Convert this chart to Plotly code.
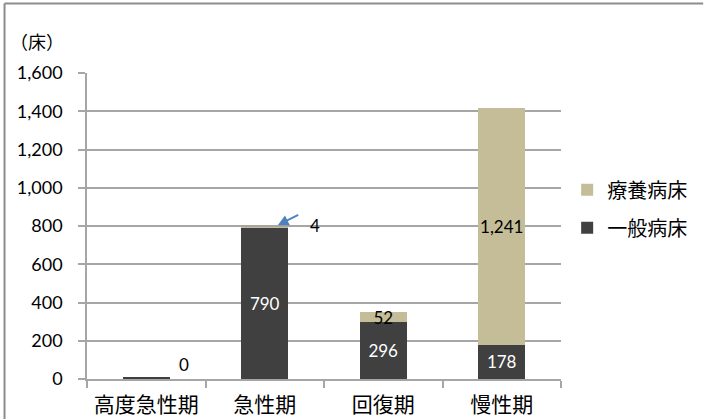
import plotly.graph_objects as go

# 病床機能ごとの病床数
categories = ['高度急性期', '急性期', '回復期', '慢性期']
ippan = [8, 790, 296, 178]       # 一般病床
ryoyo = [0, 4, 52, 1241]         # 療養病床

GRAY_DARK = '#404040'
TAN = '#C4BD97'
GRID = '#A6A6A6'
FONT = 'Lato, Noto Sans CJK JP, sans-serif'

# small values are labelled outside the bar
def inside_text(vals, show):
    return [f'{v:,}' if s else '' for v, s in zip(vals, show)]

ippan_show = [False, True, True, True]
ryoyo_show = [False, False, True, True]

fig = go.Figure()
fig.add_trace(go.Bar(
    x=categories, y=ippan, name='一般病床', legendgroup='a', legendrank=2,
    marker=dict(color=GRAY_DARK, line=dict(width=0)),
    text=inside_text(ippan, ippan_show), textposition='inside',
    insidetextanchor='middle', textangle=0, constraintext='none',
    textfont=dict(color='white', size=17, family=FONT),
))
fig.add_trace(go.Bar(
    x=categories, y=ryoyo, name='療養病床', legendgroup='b', legendrank=1,
    marker=dict(color=TAN, line=dict(width=0)),
    text=inside_text(ryoyo, ryoyo_show), textposition='inside',
    insidetextanchor='middle', textangle=0, constraintext='none',
    textfont=dict(color='black', size=17, family=FONT),
))

# labels for the tiny 療養病床 segments
totals = [a + b for a, b in zip(ippan, ryoyo)]
fig.add_annotation(x=categories[0], y=totals[0], text=str(ryoyo[0]),
                   showarrow=False, xshift=38, yshift=13,
                   font=dict(size=17, color='black', family=FONT))
fig.add_annotation(x=categories[1], y=totals[1], text=str(ryoyo[1]),
                   showarrow=False, xshift=50, yshift=2,
                   font=dict(size=17, color='black', family=FONT))
# blue arrow pointing at the 4 beds
fig.add_annotation(x=categories[1], y=totals[1], text='', xshift=13, yshift=2,
                   showarrow=True, arrowhead=2, arrowsize=1.2, arrowwidth=1.8,
                   arrowcolor='#4F81BD', ax=22, ay=-11)

# unit label
fig.add_annotation(xref='paper', yref='paper', x=-0.166, y=1.101,
                   xanchor='left', yanchor='middle', text='（床）',
                   showarrow=False, font=dict(size=18, color='black', family=FONT))

# frame (only left and top edges visible in the crop)
fig.add_shape(type='line', xref='paper', yref='paper',
              x0=-0.174, x1=1.3, y0=1.227, y1=1.227,
              line=dict(color='#8C8C8C', width=2))
fig.add_shape(type='line', xref='paper', yref='paper',
              x0=-0.174, x1=-0.174, y0=-0.2, y1=1.227,
              line=dict(color='#8C8C8C', width=2))

fig.update_layout(
    width=705, height=419,
    barmode='stack', bargap=0.6,
    plot_bgcolor='white', paper_bgcolor='white',
    margin=dict(l=87, r=144, t=73, b=40, autoexpand=False),
    font=dict(family=FONT, color='black'),
    showlegend=True,
    legend=dict(x=1.013, y=0.682, xanchor='left', yanchor='top',
                traceorder='grouped', tracegroupgap=9,
                font=dict(size=20, family=FONT), bgcolor='rgba(0,0,0,0)'),
    xaxis=dict(
        showline=True, linecolor=GRID, linewidth=1.5, automargin=False,
        ticks='outside', tickson='boundaries', ticklen=7,
        tickcolor=GRID, tickwidth=1.5, ticklabelstandoff=6,
        tickfont=dict(size=21, family=FONT), showgrid=False,
    ),
    yaxis=dict(
        range=[0, 1600], dtick=200, tickformat=',', automargin=False,
        showline=True, linecolor=GRID, linewidth=1.5,
        ticks='outside', ticklen=7, tickcolor=GRID, tickwidth=1.5,
        showgrid=True, gridcolor=GRID, gridwidth=1.5,
        tickfont=dict(size=18, family=FONT), ticklabelstandoff=12,
        zeroline=False,
    ),
)

# drop the default page margin so the figure sits at the window's corner
fig.write_html('out.html', config={'displayModeBar': False},
               post_script="document.body.style.margin='0';")
